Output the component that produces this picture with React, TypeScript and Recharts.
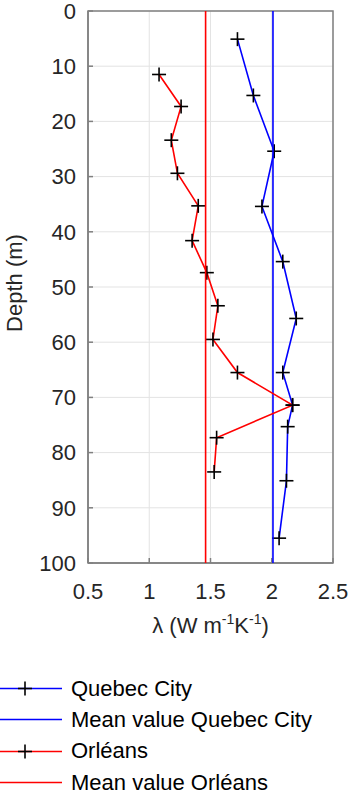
import { CartesianGrid, Legend, ReferenceArea, Scatter, ScatterChart, XAxis, YAxis } from "recharts";

// depth (m) / thermal conductivity (W m-1 K-1) read from the profiles
const quebecDepth = [5.1, 15.3, 25.4, 35.4, 45.4, 55.7, 65.5, 71.4, 75.3, 85.1, 95.5];
const quebecLambda = [1.72, 1.85, 2.02, 1.92, 2.09, 2.2, 2.09, 2.17, 2.13, 2.12, 2.06];
const orleansDepth = [11.5, 17.3, 23.4, 29.4, 35.3, 41.6, 47.4, 53.4, 59.5, 65.5, 71.4, 77.3, 83.5];
const orleansLambda = [1.08, 1.26, 1.18, 1.23, 1.4, 1.35, 1.47, 1.56, 1.52, 1.72, 2.17, 1.55, 1.53];
const meanQuebec = 2.01;
const meanOrleans = 1.46;
const meanDepths = [0, 100];

const lambdaTicks = [0.5, 1, 1.5, 2, 2.5];
const depthTicks = [0, 10, 20, 30, 40, 50, 60, 70, 80, 90, 100];

const legendItems = [
  { name: "Quebec City", color: "#0000ff", marker: true },
  { name: "Mean value Quebec City", color: "#0000ff", marker: false },
  { name: "Orléans", color: "#ff0000", marker: true },
  { name: "Mean value Orléans", color: "#ff0000", marker: false }
];

const toPoints = (lambda: number[], depth: number[]) => lambda.map((l, i) => ({ lambda: l, depth: depth[i] }));
const quebecData = toPoints(quebecLambda, quebecDepth);
const orleansData = toPoints(orleansLambda, orleansDepth);
const meanQuebecData = meanDepths.map((d) => ({ lambda: meanQuebec, depth: d }));
const meanOrleansData = meanDepths.map((d) => ({ lambda: meanOrleans, depth: d }));

const FONT = "'Liberation Sans', Arial, sans-serif";
const FRAME = "#808080";
const TICK_TEXT = { fontSize: 22, fill: "#262626", fontFamily: FONT };

function Plus(props: any) {
  const { cx, cy } = props;
  if (cx == null || cy == null) return <g />;
  return (
    <g stroke="#000" strokeWidth={1.6}>
      <line x1={cx - 7} y1={cy} x2={cx + 7} y2={cy} />
      <line x1={cx} y1={cy - 7} x2={cx} y2={cy + 7} />
    </g>
  );
}

const NoShape = () => <g />;

function XLabel(props: any) {
  const { x, y, width } = props.viewBox;
  return (
    <text x={x + width / 2} y={y + 70} textAnchor="middle" fontSize={22} fill="#262626" fontFamily={FONT}>
      λ (W m<tspan dy={-9} fontSize={14}>-1</tspan>
      <tspan dy={9}>K</tspan>
      <tspan dy={-9} fontSize={14}>-1</tspan>
      <tspan dy={9}>)</tspan>
    </text>
  );
}

function YLabel() {
  const cy = 283;
  return (
    <text x={22} y={cy} transform={`rotate(-90, 22, ${cy})`} textAnchor="middle" fontSize={22} fill="#262626" fontFamily={FONT}>
      Depth (m)
    </text>
  );
}

function LegendBox() {
  return (
    <div style={{ fontFamily: FONT, fontSize: 22, color: "#000" }}>
      {legendItems.map((item) => (
        <div key={item.name} style={{ display: "flex", alignItems: "center", height: 31.3 }}>
          <svg width={62} height={31} style={{ display: "block" }}>
            <line x1={0} y1={15.5} x2={62} y2={15.5} stroke={item.color} strokeWidth={1.6} />
            {item.marker && <Plus cx={25} cy={15.5} />}
          </svg>
          <span style={{ marginLeft: 9, whiteSpace: "nowrap" }}>{item.name}</span>
        </div>
      ))}
    </div>
  );
}

export default function App() {
  return (
    <div style={{ position: "absolute", left: 0, top: 0 }}>
      <ScatterChart width={349} height={795} margin={{ top: 11, right: 16, bottom: 152, left: 0 }}>
        <CartesianGrid stroke="#e3e3e3" strokeWidth={1} />
        <XAxis
          type="number"
          dataKey="lambda"
          domain={[0.5, 2.5]}
          ticks={lambdaTicks}
          interval={0}
          allowDataOverflow
          height={80}
          stroke={FRAME}
          strokeWidth={1.5}
          tickSize={-5}
          tickMargin={25}
          tick={TICK_TEXT}
          label={<XLabel />}
        />
        <YAxis
          type="number"
          dataKey="depth"
          domain={[0, 100]}
          ticks={depthTicks}
          interval={0}
          reversed
          allowDataOverflow
          width={88}
          stroke={FRAME}
          strokeWidth={1.5}
          tickSize={-5}
          tickMargin={17}
          tick={TICK_TEXT}
          label={<YLabel />}
        />
        {/* box round the plot area, as in the original figure */}
        <ReferenceArea x1={0.5} x2={2.5} y1={0} y2={100} ifOverflow="visible" fill="none" stroke={FRAME} strokeWidth={1.5} />
        <Scatter
          name="Quebec City"
          data={quebecData}
          line={{ stroke: "#0000ff", strokeWidth: 1.6 }}
          lineType="joint"
          shape={Plus}
          isAnimationActive={false}
        />
        <Scatter
          name="Mean value Quebec City"
          data={meanQuebecData}
          line={{ stroke: "#0000ff", strokeWidth: 1.6 }}
          lineType="joint"
          shape={NoShape}
          isAnimationActive={false}
        />
        <Scatter
          name="Orléans"
          data={orleansData}
          line={{ stroke: "#ff0000", strokeWidth: 1.6 }}
          lineType="joint"
          shape={Plus}
          isAnimationActive={false}
        />
        <Scatter
          name="Mean value Orléans"
          data={meanOrleansData}
          line={{ stroke: "#ff0000", strokeWidth: 1.6 }}
          lineType="joint"
          shape={NoShape}
          isAnimationActive={false}
        />
        <Legend
          layout="horizontal"
          verticalAlign="middle"
          align="center"
          wrapperStyle={{ top: 673, left: 0, width: 349 }}
          content={<LegendBox />}
        />
      </ScatterChart>
    </div>
  );
}
